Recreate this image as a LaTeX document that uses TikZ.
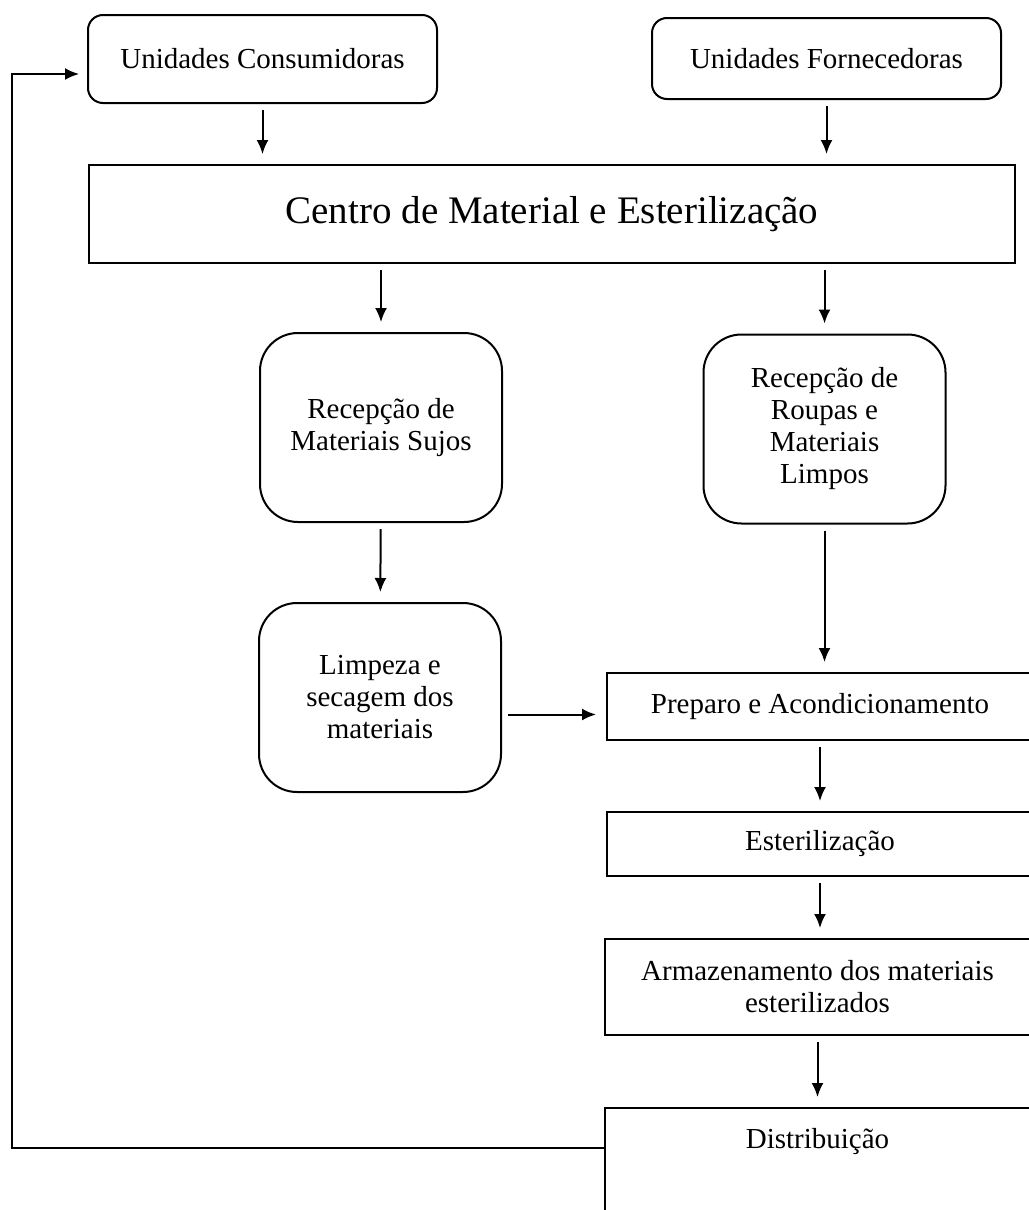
\documentclass[tikz,border=0pt]{standalone}
\usepackage{fontspec}
\setmainfont{Liberation Serif}
\usetikzlibrary{arrows.meta,positioning}

\tikzset{
  unitbox/.style={draw,rounded corners=7.5pt,align=center,inner sep=0pt,minimum width=174.5pt},
  stagebox/.style={draw,rounded corners=19pt,align=center,inner sep=0pt,minimum width=121pt,minimum height=94.5pt},
  flowbox/.style={draw,align=center,inner sep=0pt,minimum width=213pt},
  flow/.style={->,shorten <=3pt,shorten >=5pt}
}

\begin{document}
\begin{tikzpicture}[x=0.5pt,y=-0.5pt,>={Latex[length=7pt,width=6pt]},line width=1pt,
  font=\fontsize{14.5}{16}\selectfont]
  \useasboundingbox (0,0) rectangle (1028,1210);

  \node[unitbox,minimum height=44pt] (cons) at (262.5,59) {Unidades Consumidoras};
  \node[unitbox,minimum height=40.5pt] (forn) at (826.5,58.5) {Unidades Fornecedoras};
  \node[draw,inner sep=0pt,minimum width=463pt,minimum height=49pt,
    font=\fontsize{19.5}{22}\selectfont] (cme) at (552,214) {Centro de Material e Esterilização};

  \node[stagebox] (sujos) at (381,427.5) {Recepção de\\Materiais Sujos};
  \node[stagebox] (limpos) at (824.5,429) {Recepção de\\Roupas e\\Materiais\\Limpos};
  \node[stagebox] (limpeza) at (380,697.5) {Limpeza e\\secagem dos\\materiais};

  \node[flowbox,minimum height=33.5pt] (prep) at (820,706.5) {Preparo e Acondicionamento};
  \node[flowbox,minimum height=32pt] (ester) at (820,844) {Esterilização};
  \node[flowbox,minimum height=48pt] (armaz) at (817.5,987) {Armazenamento dos materiais\\esterilizados};
  % box runs past the lower edge of the page
  \node[flowbox,anchor=north,text height=11pt,text depth=60pt,inner ysep=9pt] (dist) at (817.5,1107) {Distribuição};

  \draw[flow] (cons) -- (cons |- cme.north);
  \draw[flow] (forn) -- (forn |- cme.north);
  \draw[flow] (cme.south -| sujos) -- (sujos);
  \draw[flow] (cme.south -| limpos) -- (limpos);
  \draw[flow] (sujos) -- (limpeza);
  \draw[flow] (limpos) -- (limpos |- prep.north);
  \draw[flow] ([yshift=-4pt]limpeza.east |- prep.west) -- ([yshift=-4pt]prep.west);
  \draw[flow] (prep) -- (ester);
  \draw[flow] (ester) -- (ester |- armaz.north);
  \draw[flow] (armaz) -- (armaz |- dist.north);
  \draw[->,shorten >=4pt] (dist.base west) -- ++(-592,0) |- ([yshift=-7.5pt]cons.west);
\end{tikzpicture}
\end{document}
